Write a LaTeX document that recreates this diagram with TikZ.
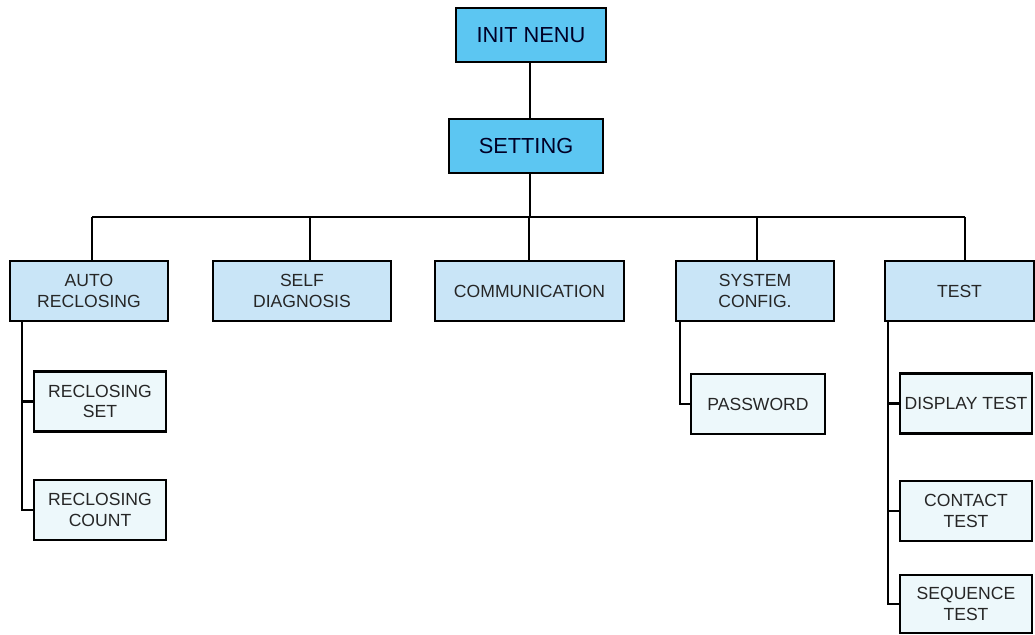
\documentclass[tikz,border=0pt]{standalone}
\usepackage{fontspec}
\setmainfont{Liberation Sans}
\usepackage{tikz}

\definecolor{topblue}{HTML}{5CC6F2}
\definecolor{midblue}{HTML}{C9E5F7}
\definecolor{lowblue}{HTML}{EDF8FB}

\begin{document}
\begin{tikzpicture}[x=0.025cm,y=-0.025cm,
    topbox/.style={draw=black,line width=1.6pt,fill=topblue,text=black!85!blue,
      font=\fontsize{15.5}{18}\selectfont,minimum height=54*0.025cm,inner sep=0pt},
    menubox/.style={draw=black,line width=1.5pt,fill=midblue,text=black!85,align=center,
      font=\fontsize{12.5}{14.5}\selectfont,minimum height=60*0.025cm,inner sep=0pt},
    subbox/.style={draw=black,line width=1.5pt,fill=lowblue,text=black!85,align=center,
      font=\fontsize{12.5}{14.5}\selectfont,minimum width=132*0.025cm,minimum height=60*0.025cm,inner sep=0pt},
    link/.style={line width=1.7pt}]
    \useasboundingbox (0,0) rectangle (1035,635);

    \node[topbox,minimum width=150*0.025cm] (init) at (531,35) {INIT NENU};
    \node[topbox,minimum width=154*0.025cm] (setting) at (526,146) {SETTING};

    \node[menubox,minimum width=158*0.025cm] (auto) at (89,291) {AUTO\\RECLOSING};
    \node[menubox,minimum width=178*0.025cm] (self) at (302,291) {SELF\\DIAGNOSIS};
    \node[menubox,minimum width=189*0.025cm] (comm) at (529.5,291) {COMMUNICATION};
    \node[menubox,minimum width=158*0.025cm] (sys) at (755,291) {SYSTEM\\CONFIG.};
    \node[menubox,minimum width=149*0.025cm] (test) at (959.5,291) {TEST};

    \node[subbox] (rset) at (100,401.5) {RECLOSING\\SET};
    \node[subbox] (rcount) at (100,510) {RECLOSING\\COUNT};
    \node[subbox,minimum width=134*0.025cm] (pass) at (758,404) {PASSWORD};
    \node[subbox] (disp) at (966,403.5) {DISPLAY TEST};
    \node[subbox] (cont) at (966,511) {CONTACT\\TEST};
    \node[subbox,minimum height=58*0.025cm] (seq) at (966,604) {SEQUENCE\\TEST};

    % main branch
    \draw[link] (init.south -| 530,0) -- (setting.north -| 530,0);
    \coordinate (busL) at (92,217);
    \coordinate (busR) at (965,217);
    \draw[link] (setting.south -| 530,0) -- (busL -| 530,0);
    \draw[link] (busL) -- (busR);
    \foreach \n/\x in {auto/92,self/310,comm/529,sys/757,test/965}{
      \coordinate (s\n) at (\x,217);
      \draw[link] (s\n) -- (s\n |- \n.north);
    }

    % sub menus
    \coordinate (tauto) at (22,321);
    \draw[link] (tauto) |- (rcount.west);
    \draw[link] (tauto |- rset.west) -- (rset.west);
    \coordinate (tsys) at (680,321);
    \draw[link] (tsys) |- (pass.west);
    \coordinate (ttest) at (888,321);
    \draw[link] (ttest) |- (seq.west);
    \draw[link] (ttest |- disp.west) -- (disp.west);
    \draw[link] (ttest |- cont.west) -- (cont.west);
\end{tikzpicture}
\end{document}
